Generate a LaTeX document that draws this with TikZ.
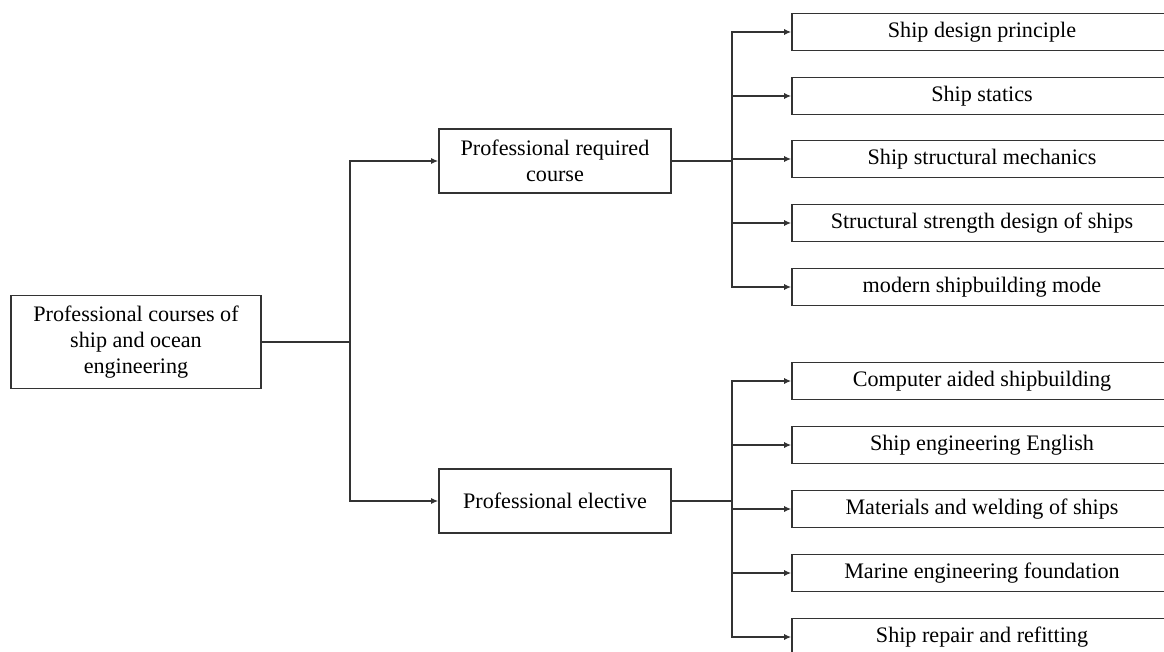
\documentclass[tikz,border=0pt]{standalone}
\usepackage{fontspec}
\setmainfont{Liberation Serif}
\usetikzlibrary{arrows.meta}

\tikzset{
    box/.style={rectangle, draw=black!80, line width=0.9pt, align=center, inner sep=2pt},
    rootbox/.style={box, minimum width=5cm, minimum height=1.86cm},
    midbox/.style={box, minimum width=4.64cm, minimum height=1.28cm},
    leafbox/.style={box, minimum width=7.6cm, minimum height=0.74cm},
    link/.style={draw=black!80, line width=0.8pt},
    arr/.style={link, -{Latex[length=4pt, width=3.5pt]}}
}

\begin{document}
\begin{tikzpicture}[x=0.02cm, y=-0.02cm, font=\fontsize{12.6pt}{15pt}\selectfont]
    \useasboundingbox (0,0) rectangle (1164,652);
    \clip (0,0) rectangle (1164,652);

    \node [rootbox] (root) at (136,342) {Professional courses of\\ship and ocean\\engineering};
    \node [midbox] (req) at (555,161) {Professional required\\course};
    \node [midbox] (ele) at (555,501) {Professional elective};

    \node [leafbox] (r1) at (982,32) {Ship design principle};
    \node [leafbox] (r2) at (982,96) {Ship statics};
    \node [leafbox] (r3) at (982,159) {Ship structural mechanics};
    \node [leafbox] (r4) at (982,223) {Structural strength design of ships};
    \node [leafbox] (r5) at (982,287) {modern shipbuilding mode};

    \node [leafbox] (e1) at (982,381) {Computer aided shipbuilding};
    \node [leafbox] (e2) at (982,445) {Ship engineering English};
    \node [leafbox] (e3) at (982,509) {Materials and welding of ships};
    \node [leafbox] (e4) at (982,573) {Marine engineering foundation};
    \node [leafbox] (e5) at (982,637) {Ship repair and refitting};

    % branch points
    \coordinate (t) at (350,342);
    \coordinate (br) at (732,161);
    \coordinate (be) at (732,501);

    \draw [link] (root) -- (t);
    \draw [arr] (t) |- (req);
    \draw [arr] (t) |- (ele);

    \draw [link] (req) -- (br);
    \foreach \n in {r1,r2,r3,r4,r5}
        \draw [arr] (br) |- (\n);

    \draw [link] (ele) -- (be);
    \foreach \n in {e1,e2,e3,e4,e5}
        \draw [arr] (be) |- (\n);
\end{tikzpicture}
\end{document}
